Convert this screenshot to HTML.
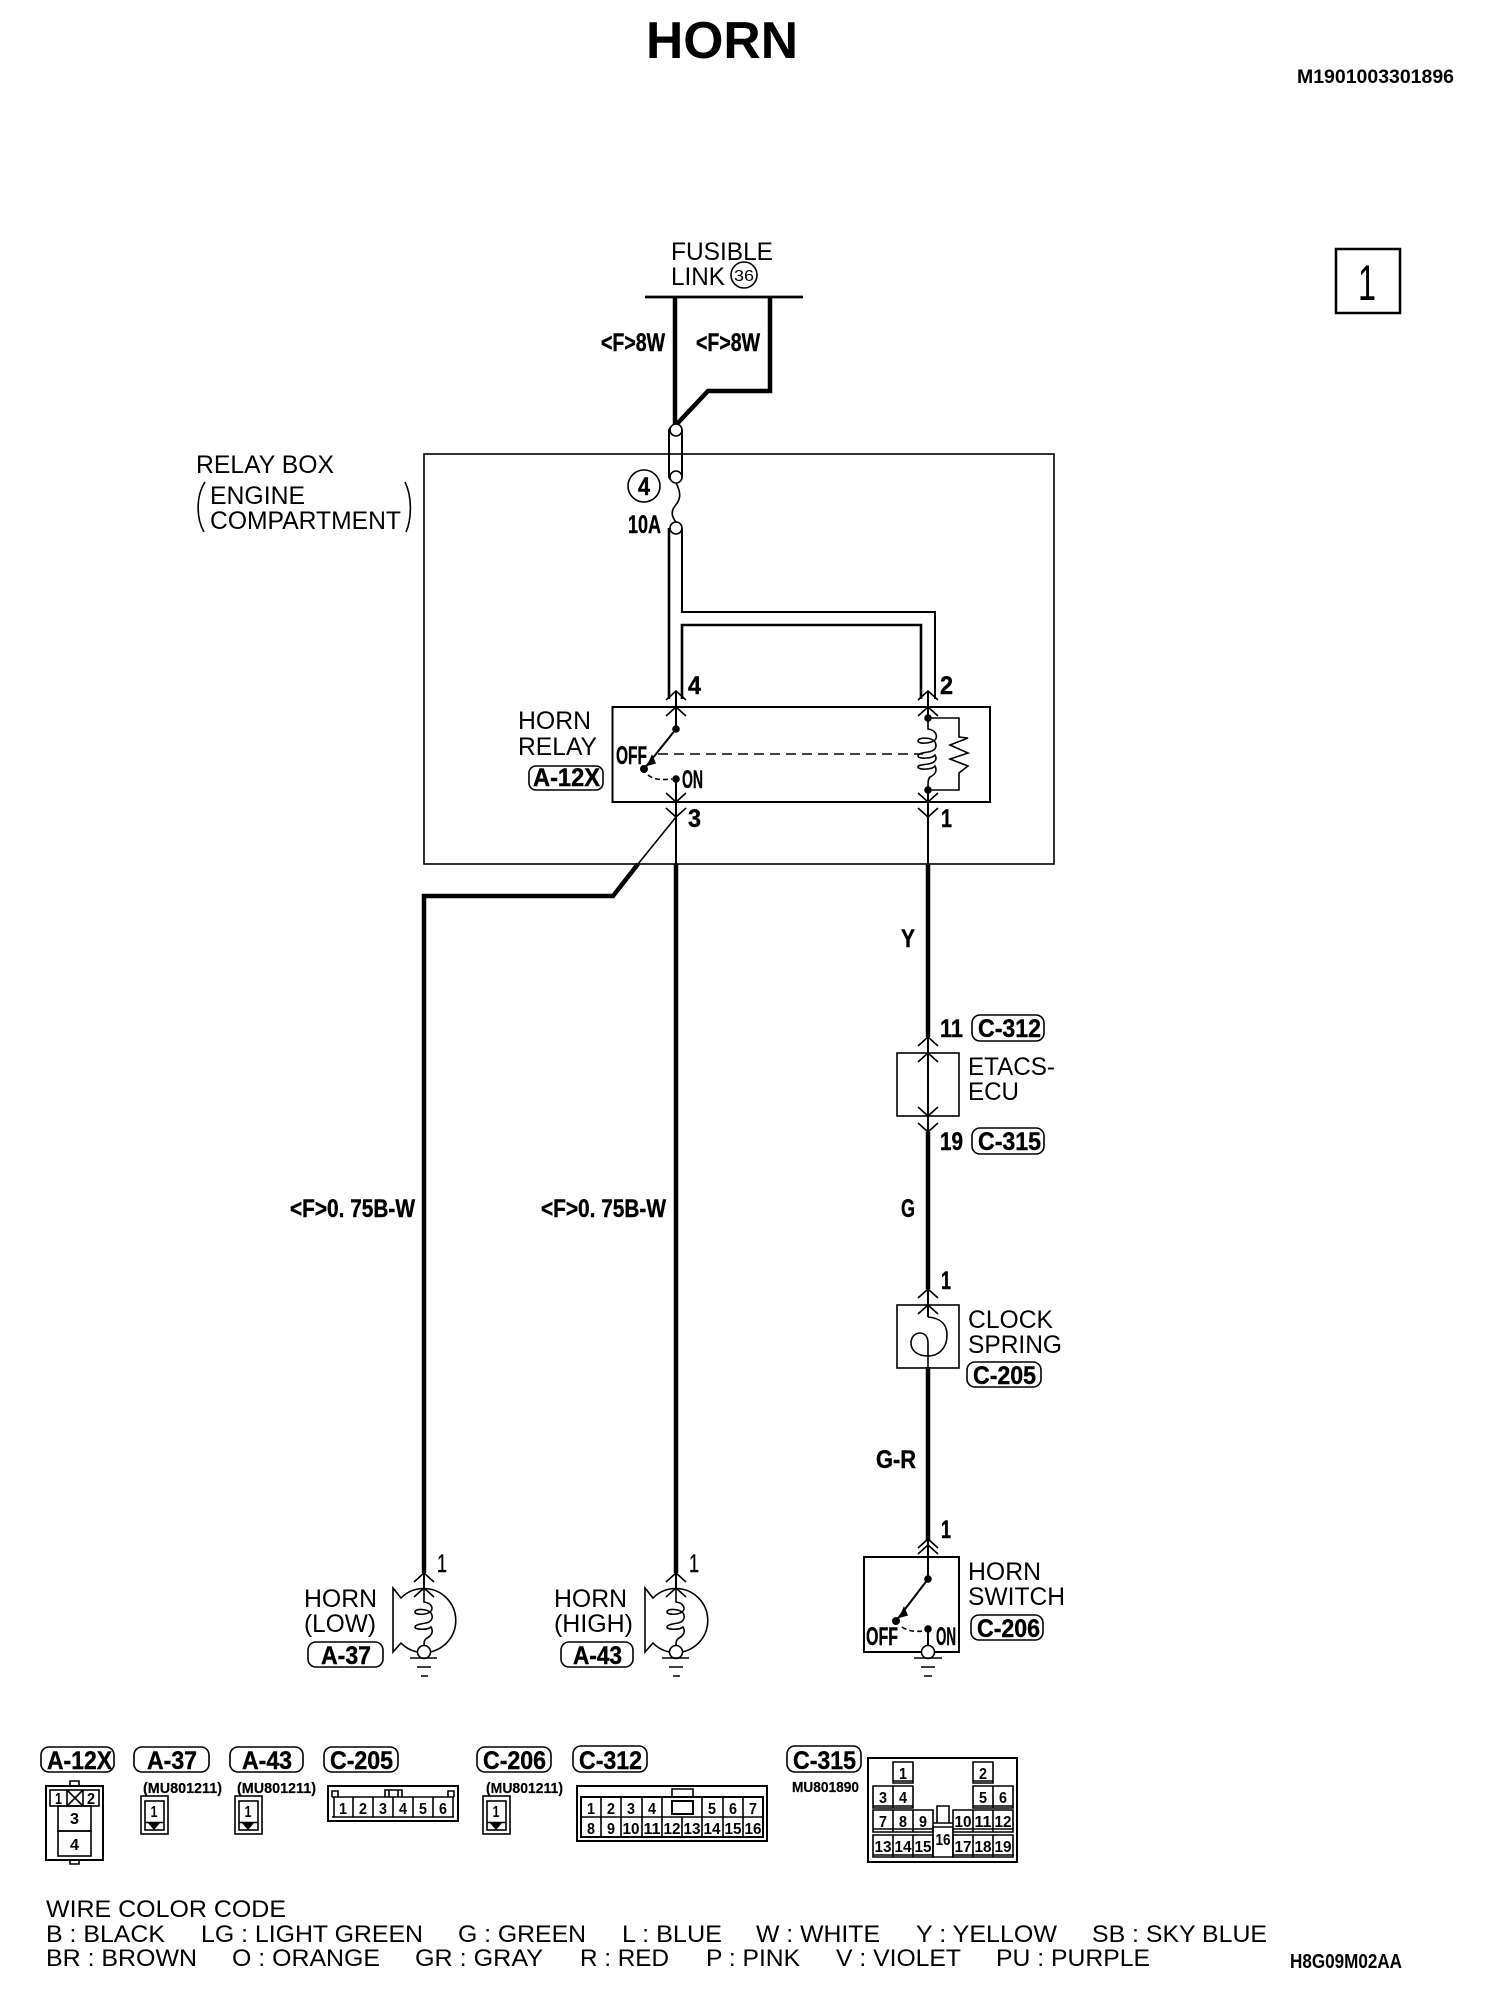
<!DOCTYPE html>
<html><head><meta charset="utf-8"><title>HORN</title>
<style>
html,body{margin:0;padding:0;background:#fff}
svg{display:block}
text{font-family:"Liberation Sans",sans-serif;fill:#000}
.t{font-size:25px}
.b{font-size:25px;font-weight:bold;stroke:#000;stroke-width:.4}
.s{font-size:16px;font-weight:bold;text-anchor:middle}
.m{font-size:15px;font-weight:bold;stroke:#000;stroke-width:.2}
.l{font-size:24px}
.w{fill:none;stroke:#000;stroke-width:4.5}
.n{fill:none;stroke:#000;stroke-width:2}
.o{fill:none;stroke:#000;stroke-width:1.6}
.p{fill:#fff;stroke:#000;stroke-width:1.6}
</style></head><body>
<svg width="1504" height="1992" viewBox="0 0 1504 1992" xmlns="http://www.w3.org/2000/svg">
<defs>
<path id="u" d="M-10 9L0 0L10 9" fill="none" stroke="#000" stroke-width="1.6"/>
<path id="d" d="M-10 -9L0 0L10 -9" fill="none" stroke="#000" stroke-width="1.6"/>
<g id="horn">
<path class="o" d="M393 1588L401 1598A32 32 0 1 1 401 1643L393 1652Z"/>
<path class="o" d="M424 1588V1602C432 1603 434 1609 430 1612C426 1615 415 1615 415 1612C415 1608 428 1609 431 1613C434 1618 431 1622 426 1623C420 1624 415 1625 415 1627C415 1630 428 1630 431 1627C434 1632 431 1636 427 1638C424 1640 424 1642 424 1646"/>
<circle class="p" cx="424" cy="1652" r="6.5"/>
<path class="o" d="M410 1658H437M417 1667H431M421 1676H428"/>
<use href="#u" x="424" y="1573"/><use href="#u" x="424" y="1588"/>
<path class="n" d="M424 1573V1590"/>
</g>
<g id="c1">
<rect class="o" x="141" y="1796" width="27" height="38"/>
<rect class="o" x="145" y="1801" width="19" height="29"/>
<path d="M148 1823H160L154 1830Z" fill="#000"/>
<path class="o" d="M145 1822.5H164"/>
</g>
</defs>

<!-- title -->
<text x="646" y="58" font-size="52" font-weight="bold" textLength="152" lengthAdjust="spacingAndGlyphs">HORN</text>
<text x="1297" y="83" font-size="19" font-weight="bold" textLength="157" lengthAdjust="spacingAndGlyphs">M1901003301896</text>
<rect x="1336" y="249" width="64" height="64" fill="none" stroke="#000" stroke-width="2.5"/>
<text x="1358" y="300" font-size="50" textLength="18" lengthAdjust="spacingAndGlyphs">1</text>

<!-- fusible link -->
<text class="t" x="671" y="260" textLength="102" lengthAdjust="spacingAndGlyphs">FUSIBLE</text>
<text class="t" x="671" y="285" textLength="54" lengthAdjust="spacingAndGlyphs">LINK</text>
<circle class="o" cx="744" cy="275" r="13"/>
<text x="734" y="281" font-size="16" textLength="20" lengthAdjust="spacingAndGlyphs">36</text>
<path d="M645 297H803" stroke="#000" stroke-width="2.8" fill="none"/>
<path class="w" d="M675 297V426"/>
<path class="w" d="M770 297V391H708L675 426"/>
<text class="b" x="601" y="351" textLength="64" lengthAdjust="spacingAndGlyphs">&lt;F&gt;8W</text>
<text class="b" x="696" y="351" textLength="64" lengthAdjust="spacingAndGlyphs">&lt;F&gt;8W</text>

<!-- relay box -->
<rect class="o" x="424" y="454" width="630" height="410"/>
<text class="t" x="196" y="473" textLength="138" lengthAdjust="spacingAndGlyphs">RELAY BOX</text>
<text class="t" x="210" y="504" textLength="95" lengthAdjust="spacingAndGlyphs">ENGINE</text>
<text class="t" x="210" y="529" textLength="191" lengthAdjust="spacingAndGlyphs">COMPARTMENT</text>
<path class="o" d="M205 482C196 496 196 518 204 532M405 482C412 496 412 518 406 532"/>

<!-- fuse -->
<path class="n" d="M669 430V477A7 7 0 0 0 682 477V430A7 7 0 0 0 669 430Z"/>
<circle class="p" cx="676" cy="430" r="6"/>
<circle class="p" cx="676" cy="477" r="6"/>
<circle class="p" cx="676" cy="528" r="6"/>
<path class="o" d="M676 483C682 494 680 500 675 506C671 511 671 516 676 522"/>
<circle class="o" cx="644" cy="486" r="16"/>
<text class="b" x="638" y="495" textLength="12" lengthAdjust="spacingAndGlyphs">4</text>
<text class="b" x="628" y="533" textLength="33" lengthAdjust="spacingAndGlyphs">10A</text>

<!-- double wires -->
<path d="M669 528V699" fill="none" stroke="#000" stroke-width="2.6"/>
<path class="n" d="M682 528V612H935V699"/>
<path d="M682 699V625H921V699" fill="none" stroke="#000" stroke-width="2.6"/>

<!-- relay -->
<rect x="612.5" y="707" width="377.5" height="95" fill="none" stroke="#000" stroke-width="2"/>
<text class="t" x="518" y="729" textLength="73" lengthAdjust="spacingAndGlyphs">HORN</text>
<text class="t" x="518" y="755" textLength="79" lengthAdjust="spacingAndGlyphs">RELAY</text>
<rect class="o" x="529" y="766" width="74" height="24" rx="7"/>
<text class="b" x="533" y="786" textLength="67" lengthAdjust="spacingAndGlyphs">A-12X</text>
<text class="b" x="616" y="764" textLength="31" lengthAdjust="spacingAndGlyphs">OFF</text>
<text class="b" x="682" y="788" textLength="21" lengthAdjust="spacingAndGlyphs">ON</text>
<text class="b" x="688" y="694" textLength="13" lengthAdjust="spacingAndGlyphs">4</text>
<text class="b" x="940" y="694" textLength="13" lengthAdjust="spacingAndGlyphs">2</text>
<text class="b" x="688" y="827" textLength="13" lengthAdjust="spacingAndGlyphs">3</text>
<text class="b" x="941" y="827" textLength="11" lengthAdjust="spacingAndGlyphs">1</text>
<use href="#u" x="676" y="691"/><use href="#u" x="676" y="707"/>
<use href="#u" x="928" y="691"/><use href="#u" x="928" y="707"/>
<use href="#d" x="676" y="802"/><use href="#d" x="676" y="817"/>
<use href="#d" x="928" y="802"/><use href="#d" x="928" y="817"/>
<path class="n" d="M676 691V729M676 779V864M928 691V720M928 786V864"/>
<circle cx="676" cy="729" r="3.8"/><circle cx="644" cy="769" r="4"/><circle cx="676" cy="779" r="3.8"/>
<path class="n" d="M676 729L644 769"/>
<path d="M652 756L655 763L648 765Z" fill="#000" stroke="#000" stroke-width="1.5"/>
<path class="o" stroke-dasharray="5 3" d="M648 775C654 780 662 780 672 779"/>
<path class="o" stroke-dasharray="10 6" d="M658 754H923"/>
<circle cx="928" cy="718" r="3.8"/><circle cx="928" cy="790" r="3.8"/>
<path class="o" d="M928 718H959V737L968 738L950 745L968 753L950 759L968 766L959 773V790H928"/>
<path class="o" d="M928 718V729C936 730 938 736 935 740C930 744 918 744 918 741C918 737 932 737 935 742C938 748 934 751 928 752C921 753 918 754 918 756C918 759 932 759 935 755C938 760 934 763 928 764C922 765 918 765 918 767C918 770 932 770 935 766C938 772 934 775 930 777C928 779 928 782 928 790"/>

<!-- wire down from 3 -->
<path class="o" d="M676 817L638 864"/>
<path d="M638 864L613 896H424V1573" fill="none" stroke="#000" stroke-width="4.5"/>
<path class="w" d="M676 864V1573"/>
<path class="w" d="M928 864V1037"/>
<text class="b" x="290" y="1217" textLength="125" lengthAdjust="spacingAndGlyphs">&lt;F&gt;0. 75B-W</text>
<text class="b" x="541" y="1217" textLength="125" lengthAdjust="spacingAndGlyphs">&lt;F&gt;0. 75B-W</text>
<text class="b" x="901" y="947" textLength="14" lengthAdjust="spacingAndGlyphs">Y</text>

<!-- ETACS -->
<text class="b" x="940" y="1037" textLength="23" lengthAdjust="spacingAndGlyphs">11</text>
<rect class="o" x="972" y="1015" width="72" height="26" rx="8"/>
<text class="b" x="978" y="1037" textLength="63" lengthAdjust="spacingAndGlyphs">C-312</text>
<rect class="o" x="897" y="1053" width="62" height="63"/>
<use href="#u" x="928" y="1037"/><use href="#u" x="928" y="1053"/>
<use href="#d" x="928" y="1116"/><use href="#d" x="928" y="1132"/>
<path class="n" d="M928 1037V1132"/>
<text class="t" x="968" y="1075" textLength="87" lengthAdjust="spacingAndGlyphs">ETACS-</text>
<text class="t" x="968" y="1100" textLength="51" lengthAdjust="spacingAndGlyphs">ECU</text>
<text class="b" x="940" y="1150" textLength="23" lengthAdjust="spacingAndGlyphs">19</text>
<rect class="o" x="972" y="1128" width="72" height="26" rx="8"/>
<text class="b" x="978" y="1150" textLength="63" lengthAdjust="spacingAndGlyphs">C-315</text>
<path class="w" d="M928 1132V1289"/>
<text class="b" x="901" y="1217" textLength="14" lengthAdjust="spacingAndGlyphs">G</text>

<!-- clock spring -->
<text class="b" x="941" y="1289" textLength="10" lengthAdjust="spacingAndGlyphs">1</text>
<rect class="o" x="897" y="1305" width="62" height="63"/>
<use href="#u" x="928" y="1289"/><use href="#u" x="928" y="1305"/>
<path class="n" d="M928 1289V1317"/>
<path class="o" d="M928 1317C940 1318 947 1324 947 1335C947 1348 939 1356 928 1356C918 1356 911 1351 911 1343C911 1337 915 1333 920 1333C925 1333 928 1337 928 1343V1367"/>
<path class="w" d="M928 1367V1540"/>
<text class="t" x="968" y="1328" textLength="85" lengthAdjust="spacingAndGlyphs">CLOCK</text>
<text class="t" x="968" y="1353" textLength="94" lengthAdjust="spacingAndGlyphs">SPRING</text>
<rect class="o" x="967" y="1362" width="74" height="25" rx="8"/>
<text class="b" x="973" y="1384" textLength="63" lengthAdjust="spacingAndGlyphs">C-205</text>
<text class="b" x="876" y="1468" textLength="40" lengthAdjust="spacingAndGlyphs">G-R</text>

<!-- horn switch -->
<text class="b" x="941" y="1538" textLength="10" lengthAdjust="spacingAndGlyphs">1</text>
<rect x="864" y="1557" width="95" height="95" fill="none" stroke="#000" stroke-width="2"/>
<use href="#u" x="928" y="1539"/><use href="#u" x="928" y="1545"/>
<path class="n" d="M928 1539V1579M928 1629V1646"/>
<circle cx="928" cy="1579" r="3.8"/><circle cx="896" cy="1621" r="4"/><circle cx="928" cy="1629" r="3.8"/>
<path class="n" d="M928 1579L896 1621"/>
<path d="M904 1608L907 1615L900 1617Z" fill="#000" stroke="#000" stroke-width="1.5"/>
<path class="o" stroke-dasharray="5 3" d="M902 1627C908 1631 914 1632 924 1631"/>
<circle class="p" cx="928" cy="1652" r="6.5"/>
<path class="o" d="M914 1658H942M921 1667H935M924 1676H932"/>
<text class="b" x="866" y="1645" textLength="32" lengthAdjust="spacingAndGlyphs">OFF</text>
<text class="b" x="936" y="1645" textLength="20" lengthAdjust="spacingAndGlyphs">ON</text>
<text class="t" x="968" y="1580" textLength="73" lengthAdjust="spacingAndGlyphs">HORN</text>
<text class="t" x="968" y="1605" textLength="97" lengthAdjust="spacingAndGlyphs">SWITCH</text>
<rect class="o" x="971" y="1615" width="72" height="25" rx="8"/>
<text class="b" x="977" y="1637" textLength="63" lengthAdjust="spacingAndGlyphs">C-206</text>

<!-- horns -->
<use href="#horn"/>
<use href="#horn" x="252"/>
<text class="b" x="437" y="1572" textLength="10" lengthAdjust="spacingAndGlyphs" style="font-weight:normal">1</text>
<text class="b" x="689" y="1572" textLength="10" lengthAdjust="spacingAndGlyphs" style="font-weight:normal">1</text>
<text class="t" x="304" y="1607" textLength="73" lengthAdjust="spacingAndGlyphs">HORN</text>
<text class="t" x="304" y="1632" textLength="72" lengthAdjust="spacingAndGlyphs">(LOW)</text>
<rect class="o" x="308" y="1642" width="75" height="25" rx="8"/>
<text class="b" x="321" y="1664" textLength="50" lengthAdjust="spacingAndGlyphs">A-37</text>
<text class="t" x="554" y="1607" textLength="73" lengthAdjust="spacingAndGlyphs">HORN</text>
<text class="t" x="554" y="1632" textLength="79" lengthAdjust="spacingAndGlyphs">(HIGH)</text>
<rect class="o" x="561" y="1642" width="72" height="25" rx="8"/>
<text class="b" x="573" y="1664" textLength="49" lengthAdjust="spacingAndGlyphs">A-43</text>

<!-- connector labels -->
<rect class="o" x="41" y="1747" width="73" height="25" rx="8"/>
<text class="b" x="47" y="1769" textLength="65" lengthAdjust="spacingAndGlyphs">A-12X</text>
<rect class="o" x="134" y="1747" width="75" height="25" rx="8"/>
<text class="b" x="147" y="1769" textLength="50" lengthAdjust="spacingAndGlyphs">A-37</text>
<rect class="o" x="230" y="1747" width="73" height="25" rx="8"/>
<text class="b" x="242" y="1769" textLength="50" lengthAdjust="spacingAndGlyphs">A-43</text>
<rect class="o" x="324" y="1747" width="74" height="25" rx="8"/>
<text class="b" x="330" y="1769" textLength="63" lengthAdjust="spacingAndGlyphs">C-205</text>
<rect class="o" x="477" y="1747" width="74" height="25" rx="8"/>
<text class="b" x="483" y="1769" textLength="63" lengthAdjust="spacingAndGlyphs">C-206</text>
<rect class="o" x="573" y="1746" width="74" height="26" rx="8"/>
<text class="b" x="579" y="1769" textLength="63" lengthAdjust="spacingAndGlyphs">C-312</text>
<rect class="o" x="787" y="1746" width="74" height="26" rx="8"/>
<text class="b" x="793" y="1769" textLength="63" lengthAdjust="spacingAndGlyphs">C-315</text>
<text class="m" x="143" y="1793" textLength="79" lengthAdjust="spacingAndGlyphs">(MU801211)</text>
<text class="m" x="237" y="1793" textLength="79" lengthAdjust="spacingAndGlyphs">(MU801211)</text>
<text class="m" x="486" y="1793" textLength="77" lengthAdjust="spacingAndGlyphs">(MU801211)</text>
<text class="m" x="792" y="1792" textLength="67" lengthAdjust="spacingAndGlyphs">MU801890</text>

<!-- A-12X -->
<rect x="46" y="1786" width="57" height="74" fill="none" stroke="#000" stroke-width="2"/>
<path class="o" d="M70 1786V1781H79V1786M70 1860V1864H79V1860"/>
<rect class="o" x="50" y="1790" width="49" height="16"/>
<path class="o" d="M67 1790V1806M83 1790V1806M67 1790L83 1806M83 1790L67 1806"/>
<rect class="o" x="58" y="1806" width="33" height="25"/>
<rect class="o" x="58" y="1831" width="33" height="25"/>
<text class="s" x="58.5" y="1804" textLength="7" lengthAdjust="spacingAndGlyphs">1</text>
<text class="s" x="91" y="1804" textLength="8" lengthAdjust="spacingAndGlyphs">2</text>
<text class="s" x="74.5" y="1824" textLength="9" lengthAdjust="spacingAndGlyphs">3</text>
<text class="s" x="74.5" y="1850" textLength="9" lengthAdjust="spacingAndGlyphs">4</text>

<!-- single pin -->
<use href="#c1"/><use href="#c1" x="94"/><use href="#c1" x="342"/>
<text class="s" x="154" y="1817" textLength="7" lengthAdjust="spacingAndGlyphs">1</text>
<text class="s" x="248" y="1817" textLength="7" lengthAdjust="spacingAndGlyphs">1</text>
<text class="s" x="496" y="1817" textLength="7" lengthAdjust="spacingAndGlyphs">1</text>

<!-- C-205 -->
<rect x="328" y="1786" width="130" height="35" fill="none" stroke="#000" stroke-width="2"/>
<path class="o" d="M332 1797H454M332 1817H454M334 1797V1817M353 1797V1817M373 1797V1817M393 1797V1817M413 1797V1817M433 1797V1817M453 1797V1817M332 1797V1791H338V1797M448 1797V1791H454V1797M385 1797V1790H402V1797M389 1790V1797M398 1790V1797"/>
<text class="s" x="343" y="1814" textLength="8" lengthAdjust="spacingAndGlyphs">1</text>
<text class="s" x="363" y="1814" textLength="8" lengthAdjust="spacingAndGlyphs">2</text>
<text class="s" x="383" y="1814" textLength="8" lengthAdjust="spacingAndGlyphs">3</text>
<text class="s" x="403" y="1814" textLength="8" lengthAdjust="spacingAndGlyphs">4</text>
<text class="s" x="423" y="1814" textLength="8" lengthAdjust="spacingAndGlyphs">5</text>
<text class="s" x="443" y="1814" textLength="8" lengthAdjust="spacingAndGlyphs">6</text>

<!-- C-312 -->
<rect x="577" y="1786" width="190" height="55" fill="none" stroke="#000" stroke-width="2"/>
<rect x="581" y="1797" width="182" height="40" fill="none" stroke="#000" stroke-width="2"/>
<path class="o" d="M581 1817H763M601 1797V1837M621 1797V1837M642 1797V1837M662 1797V1837M682 1817V1837M702 1797V1837M723 1797V1837M743 1797V1837M672 1797V1789H693V1797"/>
<rect x="672" y="1801" width="21" height="13" fill="none" stroke="#000" stroke-width="2"/>
<text class="s" x="591" y="1814" textLength="8" lengthAdjust="spacingAndGlyphs">1</text>
<text class="s" x="611" y="1814" textLength="8" lengthAdjust="spacingAndGlyphs">2</text>
<text class="s" x="631" y="1814" textLength="8" lengthAdjust="spacingAndGlyphs">3</text>
<text class="s" x="652" y="1814" textLength="8" lengthAdjust="spacingAndGlyphs">4</text>
<text class="s" x="712" y="1814" textLength="8" lengthAdjust="spacingAndGlyphs">5</text>
<text class="s" x="733" y="1814" textLength="8" lengthAdjust="spacingAndGlyphs">6</text>
<text class="s" x="753" y="1814" textLength="8" lengthAdjust="spacingAndGlyphs">7</text>
<text class="s" x="591" y="1834" textLength="8" lengthAdjust="spacingAndGlyphs">8</text>
<text class="s" x="611" y="1834" textLength="8" lengthAdjust="spacingAndGlyphs">9</text>
<text class="s" x="631" y="1834" textLength="17" lengthAdjust="spacingAndGlyphs">10</text>
<text class="s" x="652" y="1834" textLength="17" lengthAdjust="spacingAndGlyphs">11</text>
<text class="s" x="672" y="1834" textLength="17" lengthAdjust="spacingAndGlyphs">12</text>
<text class="s" x="692" y="1834" textLength="17" lengthAdjust="spacingAndGlyphs">13</text>
<text class="s" x="712" y="1834" textLength="17" lengthAdjust="spacingAndGlyphs">14</text>
<text class="s" x="733" y="1834" textLength="17" lengthAdjust="spacingAndGlyphs">15</text>
<text class="s" x="753" y="1834" textLength="17" lengthAdjust="spacingAndGlyphs">16</text>

<!-- C-315 -->
<rect x="868" y="1758" width="149" height="104" fill="none" stroke="#000" stroke-width="2"/>
<path class="o" d="M893 1762H913V1783H893ZM973 1762H993V1783H973Z"/>
<path class="o" d="M893 1781H913M973 1781H993M873 1786H913V1808H873ZM893 1786V1808M973 1786H1013V1808H973ZM993 1786V1808M873 1806H913M973 1806H1013"/>
<path class="o" d="M873 1810H933V1832H873ZM893 1810V1832M913 1810V1832M953 1810H1013V1832H953ZM973 1810V1832M993 1810V1832M873 1829H933M953 1829H1013"/>
<path class="o" d="M873 1835H933V1857H873ZM893 1835V1857M913 1835V1857M953 1835H1013V1857H953ZM973 1835V1857M993 1835V1857M873 1855H933M953 1855H1013"/>
<path class="o" d="M937 1823V1806H949V1823M933 1823H953M933 1827H953M933 1827V1857H953V1827"/>
<text class="s" x="903" y="1779" textLength="8" lengthAdjust="spacingAndGlyphs">1</text>
<text class="s" x="983" y="1779" textLength="8" lengthAdjust="spacingAndGlyphs">2</text>
<text class="s" x="883" y="1803" textLength="8" lengthAdjust="spacingAndGlyphs">3</text>
<text class="s" x="903" y="1803" textLength="8" lengthAdjust="spacingAndGlyphs">4</text>
<text class="s" x="983" y="1803" textLength="8" lengthAdjust="spacingAndGlyphs">5</text>
<text class="s" x="1003" y="1803" textLength="8" lengthAdjust="spacingAndGlyphs">6</text>
<text class="s" x="883" y="1827" textLength="8" lengthAdjust="spacingAndGlyphs">7</text>
<text class="s" x="903" y="1827" textLength="8" lengthAdjust="spacingAndGlyphs">8</text>
<text class="s" x="923" y="1827" textLength="8" lengthAdjust="spacingAndGlyphs">9</text>
<text class="s" x="963" y="1827" textLength="17" lengthAdjust="spacingAndGlyphs">10</text>
<text class="s" x="983" y="1827" textLength="17" lengthAdjust="spacingAndGlyphs">11</text>
<text class="s" x="1003" y="1827" textLength="17" lengthAdjust="spacingAndGlyphs">12</text>
<text class="s" x="883" y="1852" textLength="17" lengthAdjust="spacingAndGlyphs">13</text>
<text class="s" x="903" y="1852" textLength="17" lengthAdjust="spacingAndGlyphs">14</text>
<text class="s" x="923" y="1852" textLength="17" lengthAdjust="spacingAndGlyphs">15</text>
<text class="s" x="943" y="1845" textLength="15" lengthAdjust="spacingAndGlyphs">16</text>
<text class="s" x="963" y="1852" textLength="17" lengthAdjust="spacingAndGlyphs">17</text>
<text class="s" x="983" y="1852" textLength="17" lengthAdjust="spacingAndGlyphs">18</text>
<text class="s" x="1003" y="1852" textLength="17" lengthAdjust="spacingAndGlyphs">19</text>

<!-- wire colour code -->
<text class="l" x="46" y="1917" textLength="240" lengthAdjust="spacingAndGlyphs">WIRE COLOR CODE</text>
<text class="l" x="46" y="1942" textLength="119" lengthAdjust="spacingAndGlyphs">B : BLACK</text>
<text class="l" x="201" y="1942" textLength="222" lengthAdjust="spacingAndGlyphs">LG : LIGHT GREEN</text>
<text class="l" x="458" y="1942" textLength="128" lengthAdjust="spacingAndGlyphs">G : GREEN</text>
<text class="l" x="622" y="1942" textLength="100" lengthAdjust="spacingAndGlyphs">L : BLUE</text>
<text class="l" x="756" y="1942" textLength="124" lengthAdjust="spacingAndGlyphs">W : WHITE</text>
<text class="l" x="916" y="1942" textLength="141" lengthAdjust="spacingAndGlyphs">Y : YELLOW</text>
<text class="l" x="1092" y="1942" textLength="175" lengthAdjust="spacingAndGlyphs">SB : SKY BLUE</text>
<text class="l" x="46" y="1966" textLength="151" lengthAdjust="spacingAndGlyphs">BR : BROWN</text>
<text class="l" x="232" y="1966" textLength="148" lengthAdjust="spacingAndGlyphs">O : ORANGE</text>
<text class="l" x="415" y="1966" textLength="128" lengthAdjust="spacingAndGlyphs">GR : GRAY</text>
<text class="l" x="580" y="1966" textLength="89" lengthAdjust="spacingAndGlyphs">R : RED</text>
<text class="l" x="706" y="1966" textLength="94" lengthAdjust="spacingAndGlyphs">P : PINK</text>
<text class="l" x="836" y="1966" textLength="125" lengthAdjust="spacingAndGlyphs">V : VIOLET</text>
<text class="l" x="996" y="1966" textLength="154" lengthAdjust="spacingAndGlyphs">PU : PURPLE</text>
<text x="1290" y="1968" font-size="20" font-weight="bold" textLength="112" lengthAdjust="spacingAndGlyphs">H8G09M02AA</text>
</svg>
</body></html>
